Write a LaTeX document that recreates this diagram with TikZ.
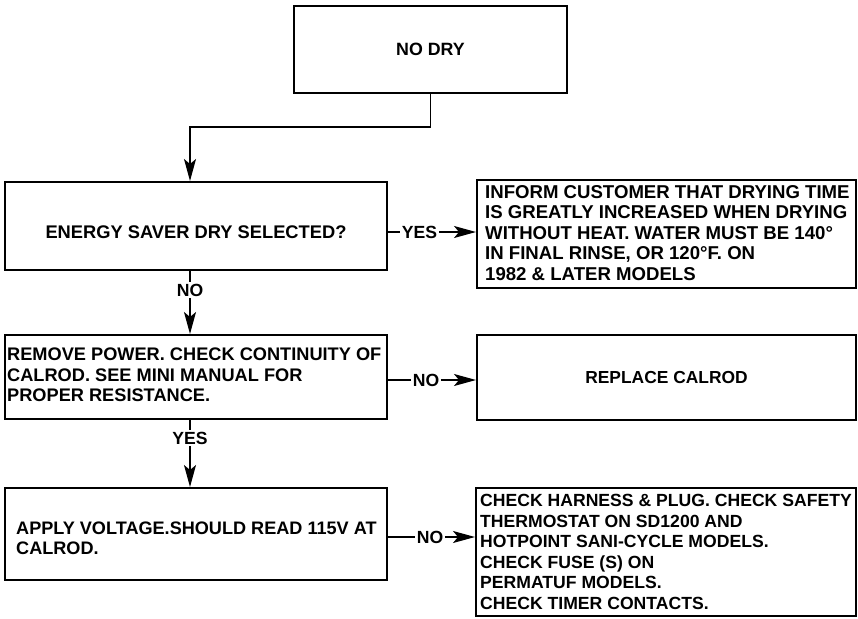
\documentclass[tikz,border=0pt]{standalone}
\usepackage{fontspec}
\usetikzlibrary{arrows.meta}
\newfontfamily\chartfont{Liberation Sans Bold}
\newcommand\fs[1]{\chartfont\fontsize{#1}{20.5}\selectfont}
\begin{document}
\begin{tikzpicture}[x=1pt,y=-1pt,
  box/.style={draw,line width=2pt,inner sep=0pt},
  body/.style={font=\fs{17.8},align=left,inner sep=0pt,anchor=west},
  ctext/.style={font=\fs{17.8}},
  lbl/.style={font=\fs{17.6},inner sep=1.5pt},
  link/.style={line width=1.4pt},
  tip/.style={line width=1.4pt,-{Stealth[length=22pt,width=12pt,inset=5pt]}}]
\useasboundingbox (0,0) rectangle (858,618);

% boxes
\node[box,ctext,minimum width=273pt,minimum height=87pt] (nodry) at (430.5,49.5) {NO DRY};
\node[box,ctext,font=\fs{18.3},minimum width=382pt,minimum height=88pt,text height=26pt] (energy) at (196,226) {ENERGY SAVER DRY SELECTED?};
\node[box,minimum width=379pt,minimum height=108pt] (inform) at (666.5,234) {};
\node[box,minimum width=382pt,minimum height=84pt] (remove) at (196,377) {};
\node[box,ctext,font=\fs{17.4},minimum width=379pt,minimum height=85pt] (replace) at (666.5,377.5) {REPLACE CALROD};
\node[box,minimum width=382pt,minimum height=92pt] (apply) at (196,534) {};
\node[box,minimum width=380pt,minimum height=128pt] (check) at (666,552) {};

% left-aligned texts
\node[body,font=\fs{18.6}] (informtxt) at ([xshift=9pt,yshift=1pt]inform.west) {INFORM CUSTOMER THAT DRYING TIME\\IS GREATLY INCREASED WHEN DRYING\\WITHOUT HEAT. WATER MUST BE 140°\\IN FINAL RINSE, OR 120°F. ON\\1982 \& LATER MODELS};
\node[body,font=\fs{18.2}] (removetxt) at ([xshift=3pt,yshift=2pt]remove.west) {REMOVE POWER. CHECK CONTINUITY OF\\CALROD. SEE MINI MANUAL FOR\\PROPER RESISTANCE.};
\node[body,font=\fs{18.1}] (applytxt) at ([xshift=12pt,yshift=-4.5pt]apply.west) {APPLY VOLTAGE.SHOULD READ 115V AT\\CALROD.};
\node[body,font=\fs{17.6}] (checktxt) at ([xshift=5pt]check.west) {CHECK HARNESS \& PLUG. CHECK SAFETY\\THERMOSTAT ON SD1200 AND\\HOTPOINT SANI-CYCLE MODELS.\\CHECK FUSE (S) ON\\PERMATUF MODELS.\\CHECK TIMER CONTACTS.};

% connector labels
\node[lbl] (yes1) at (419.5,232) {YES};
\node[lbl] (no1) at (190,290) {NO};
\node[lbl] (no2) at (426,380) {NO};
\node[lbl] (yes2) at (190,438) {YES};
\node[lbl] (no3) at (430,537) {NO};

% connectors
\draw[tip] (nodry.south) -- ++(0,33) -| (no1.north |- energy.north);

\draw[link] (yes1.west -| energy.east) -- (yes1.west);
\draw[tip] (yes1.east) -- (yes1.east -| inform.west);

\draw[link] (no1.north |- energy.south) -- (no1.north);
\draw[tip] (no1.south) -- (no1.south |- remove.north);

\draw[link] (no2.west -| remove.east) -- (no2.west);
\draw[tip] (no2.east) -- (no2.east -| replace.west);

\draw[link] (yes2.north |- remove.south) -- (yes2.north);
\draw[tip] (yes2.south) -- (yes2.south |- apply.north);

\draw[link] (no3.west -| apply.east) -- (no3.west);
\draw[tip] (no3.east) -- (no3.east -| check.west);
\end{tikzpicture}
\end{document}
